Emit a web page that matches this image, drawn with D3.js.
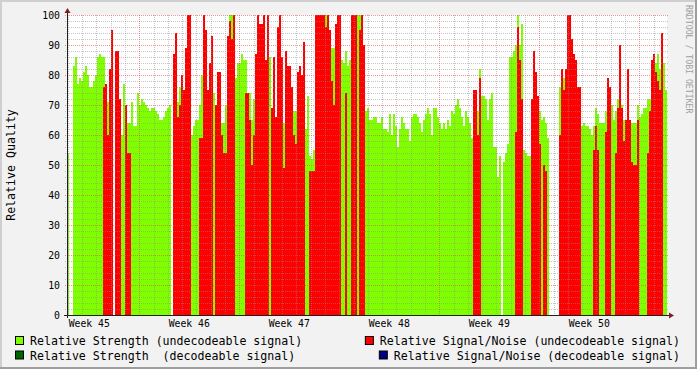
<!DOCTYPE html>
<html>
<head>
<meta charset="utf-8">
<script src="https://cdn.jsdelivr.net/npm/d3@7"></script>
<style>
  html, body { margin: 0; padding: 0; background: #f2f2f2; }
  svg { display: block; font-family: "DejaVu Sans Mono", monospace; }
</style>
</head>
<body>
<svg id="chart" width="697" height="369"></svg>
<script>
// one sample every 2 px, 300 samples over the 6 weeks shown
const strengthUndec = [
  54,null,null,83,86,77,79,78,81,83,
  80,76,76,78,80,86,87,86,86,71,
  71,70,70,null,62,62,62,60,77,64,
  64,64,71,63,63,74,70,72,71,70,
  69,68,69,69,68,67,65,65,66,68,
  69,70,null,70,75,71,76,70,70,70,
  70,62,60,63,65,65,70,80,80,75,
  70,70,78,74,66,66,70,64,64,70,
  80,100,100,75,79,84,84,87,85,85,
  74,74,65,72,70,70,70,70,70,70,
  86,86,60,60,65,60,60,64,64,60,
  60,60,76,68,68,60,60,60,60,62,
  73,53,52,55,80,80,80,80,80,100,
  80,80,89,89,86,90,100,85,84,88,
  83,85,90,90,100,100,100,90,90,68,
  69,65,65,66,66,64,64,66,62,62,
  61,67,60,67,63,56,62,66,64,62,
  62,58,66,67,67,66,64,61,65,67,
  69,67,60,69,69,66,64,62,64,62,
  65,63,68,67,70,72,69,66,63,68,
  66,64,59,58,68,68,82,73,73,72,
  65,72,74,56,56,46,53,null,51,54,
  57,86,86,88,90,100,90,97,55,54,
  53,53,52,65,65,65,68,65,66,64,
  59,null,null,null,null,null,76,79,79,79,
  79,79,66,66,66,66,66,63,64,63,
  63,62,60,63,69,67,64,64,64,68,
  68,68,70,65,68,72,70,70,65,64,
  64,64,64,64,64,70,66,67,69,69,
  72,72,75,80,84,87,82,80,84,75
];

const snrUndec = [
  0,null,null,0,0,0,0,0,0,0,
  0,0,0,0,0,0,0,0,76,77,
  60,82,95,null,88,88,72,0,0,70,
  54,54,0,0,0,0,0,0,0,0,
  0,0,0,0,0,0,0,0,0,0,
  0,0,null,87,94,66,70,80,75,89,
  100,100,0,0,0,0,59,59,100,95,
  75,84,93,0,70,81,81,60,54,54,
  93,98,92,100,0,0,0,0,0,74,
  74,65,50,60,87,100,97,97,100,85,
  100,0,69,86,66,96,100,86,49,88,
  83,83,76,60,57,81,83,80,91,0,
  0,48,48,48,100,100,100,100,100,96,
  100,95,78,70,97,100,100,0,0,74,
  0,0,100,100,100,0,95,100,90,0,
  0,0,0,0,0,0,0,0,0,0,
  0,0,0,0,0,0,0,0,0,0,
  0,0,0,0,0,0,0,0,0,0,
  0,0,0,0,0,0,0,0,0,0,
  0,0,0,0,0,0,0,0,0,0,
  0,0,0,75,75,60,79,0,0,0,
  0,0,0,0,0,0,0,0,0,0,
  0,0,0,0,61,96,85,72,0,0,
  0,0,72,88,81,73,57,0,50,48,
  0,null,null,null,null,null,60,82,75,82,
  100,100,92,87,85,76,76,0,0,0,
  0,0,0,55,63,55,0,0,0,61,
  79,76,0,0,54,69,90,69,58,65,
  82,65,51,50,50,65,0,0,0,0,
  54,68,85,87,81,78,75,94,0,0
];

// decodeable signal never shows up in this period
const strengthDec = [];
const snrDec = [];

const yTickValues = [0, 10, 20, 30, 40, 50, 60, 70, 80, 90, 100];
const weekLabels = ["Week 45", "Week 46", "Week 47", "Week 48", "Week 49", "Week 50"];
const legendLabels = [
  "Relative Strength (undecodeable signal)",
  "Relative Signal/Noise (undecodeable signal)",
  "Relative Strength  (decodeable signal)",
  "Relative Signal/Noise (decodeable signal)"
];
const legendColors = ["#80ff00", "#ff0000", "#006400", "#000080"];

const totalDays = 42;
const firstDayLine = 0.06;   // first midnight after graph start
const firstWeekStart = 5.06; // start of week 46

const svg = d3.select('#chart');
const W = 697, H = 369;
const plot = { left: 67, right: 667, top: 15, bottom: 315 };

const x = d3.scaleLinear().domain([0, strengthUndec.length]).range([plot.left, plot.right]);
const xDay = d3.scaleLinear().domain([0, totalDays]).range([plot.left, plot.right]);
const y = d3.scaleLinear().domain([0, 100]).range([plot.bottom, plot.top]);

// background + shaded frame
svg.append('rect').attr('width', W).attr('height', H).attr('fill', '#f2f2f2');
svg.append('rect').attr('x', 0).attr('y', 0).attr('width', W).attr('height', 2).attr('fill', '#cfcfcf');
svg.append('rect').attr('x', 0).attr('y', 0).attr('width', 2).attr('height', H).attr('fill', '#cfcfcf');
svg.append('rect').attr('x', 0).attr('y', H - 2).attr('width', W).attr('height', 2).attr('fill', '#9e9e9e');
svg.append('rect').attr('x', W - 2).attr('y', 0).attr('width', 2).attr('height', H).attr('fill', '#9e9e9e');

// canvas
svg.append('rect')
  .attr('x', plot.left).attr('y', plot.top)
  .attr('width', plot.right - plot.left).attr('height', plot.bottom - plot.top)
  .attr('fill', '#ffffff');

function drawSeries(values, color) {
  const pts = values.map((v, i) => ({ v, i })).filter(d => d.v != null && d.v > 0);
  svg.append('g')
    .attr('shape-rendering', 'crispEdges')
    .selectAll('rect')
    .data(pts)
    .enter()
    .append('rect')
    .attr('x', d => x(d.i))
    .attr('width', d => x(d.i + 1) - x(d.i))
    .attr('y', d => Math.round(y(d.v)))
    .attr('height', d => plot.bottom - Math.round(y(d.v)))
    .attr('fill', color);
}

drawSeries(strengthUndec, legendColors[0]);
drawSeries(snrUndec, legendColors[1]);
drawSeries(strengthDec, legendColors[2]);
drawSeries(snrDec, legendColors[3]);

// grid on top of the areas
const minorCol = 'rgba(143,143,143,0.5)';
const majorCol = 'rgba(222,79,79,0.6)';
const grid = svg.append('g').attr('shape-rendering', 'crispEdges');

d3.range(0, 101, 2).forEach(v => {
  if (v === 0) return;
  const major = yTickValues.includes(v);
  grid.append('line')
    .attr('x1', plot.left - 2).attr('x2', plot.right + 2)
    .attr('y1', Math.round(y(v)) + 0.5).attr('y2', Math.round(y(v)) + 0.5)
    .attr('stroke', major ? majorCol : minorCol)
    .attr('stroke-dasharray', '1,1');
});

d3.range(firstDayLine, totalDays, 1).forEach(d => {
  const major = Math.abs(((d - firstWeekStart) % 7 + 7) % 7) < 0.01;
  const px = Math.round(xDay(d)) + 0.5;
  grid.append('line')
    .attr('x1', px).attr('x2', px)
    .attr('y1', plot.top).attr('y2', plot.bottom + 2)
    .attr('stroke', major ? majorCol : minorCol)
    .attr('stroke-dasharray', '1,1');
});

// axes
const axisCol = '#1f1f1f';
const arrowCol = '#802020';
svg.append('line')
  .attr('x1', plot.left - 3).attr('x2', plot.right + 3)
  .attr('y1', plot.bottom + 0.5).attr('y2', plot.bottom + 0.5)
  .attr('stroke', axisCol);
svg.append('line')
  .attr('x1', plot.left + 0.5).attr('x2', plot.left + 0.5)
  .attr('y1', plot.bottom + 3).attr('y2', plot.top - 3)
  .attr('stroke', axisCol);
svg.append('path')
  .attr('d', `M${plot.left + 0.5},${plot.top - 7} L${plot.left - 2.5},${plot.top - 2} L${plot.left + 3.5},${plot.top - 2} Z`)
  .attr('fill', arrowCol);
svg.append('path')
  .attr('d', `M${plot.right + 7},${plot.bottom + 0.5} L${plot.right + 2},${plot.bottom - 2.5} L${plot.right + 2},${plot.bottom + 3.5} Z`)
  .attr('fill', arrowCol);

// y tick labels
const yAxis = svg.append('g')
  .attr('transform', `translate(${plot.left},0)`)
  .call(d3.axisLeft(y).tickValues(yTickValues).tickSize(0).tickPadding(7));
yAxis.select('.domain').remove();
yAxis.selectAll('text')
  .attr('font-family', '"DejaVu Sans Mono", monospace')
  .attr('font-size', '9.8px')
  .attr('fill', '#000');

// week labels, centred in their week
svg.append('g').selectAll('text')
  .data(weekLabels)
  .enter()
  .append('text')
  .attr('x', (d, i) => xDay(firstWeekStart - 3.5 + 7 * i))
  .attr('y', 327)
  .attr('text-anchor', 'middle')
  .attr('font-size', '9.8px')
  .attr('fill', '#000')
  .text(d => d);

// y title
svg.append('text')
  .attr('transform', 'translate(14.5,165) rotate(-90)')
  .attr('text-anchor', 'middle')
  .attr('font-size', '11.6px')
  .attr('fill', '#000')
  .text('Relative Quality');

// watermark
svg.append('text')
  .attr('transform', 'translate(685.5,5) rotate(90)')
  .attr('font-size', '8.2px')
  .attr('fill', '#a0a0a0')
  .text('RRDTOOL / TOBI OETIKER');

// legend
const legendRows = [345, 345, 359.5, 359.5];
legendLabels.forEach((label, i) => {
  const leftSide = i % 2 === 0;
  const t = svg.append('text')
    .attr('y', legendRows[i])
    .attr('font-size', '11.6px')
    .attr('fill', '#000')
    .style('white-space', 'pre')
    .attr('xml:space', 'preserve')
    .text(label);
  let tx;
  if (leftSide) {
    tx = 30;
    t.attr('x', tx);
  } else {
    const len = t.node().getComputedTextLength();
    tx = 680 - len;
    t.attr('x', tx);
  }
  svg.append('rect')
    .attr('x', tx - 14.5).attr('y', legendRows[i] - 8.5)
    .attr('width', 8).attr('height', 8)
    .attr('fill', legendColors[i])
    .attr('stroke', '#000').attr('stroke-width', 1);
});
</script>
</body>
</html>
